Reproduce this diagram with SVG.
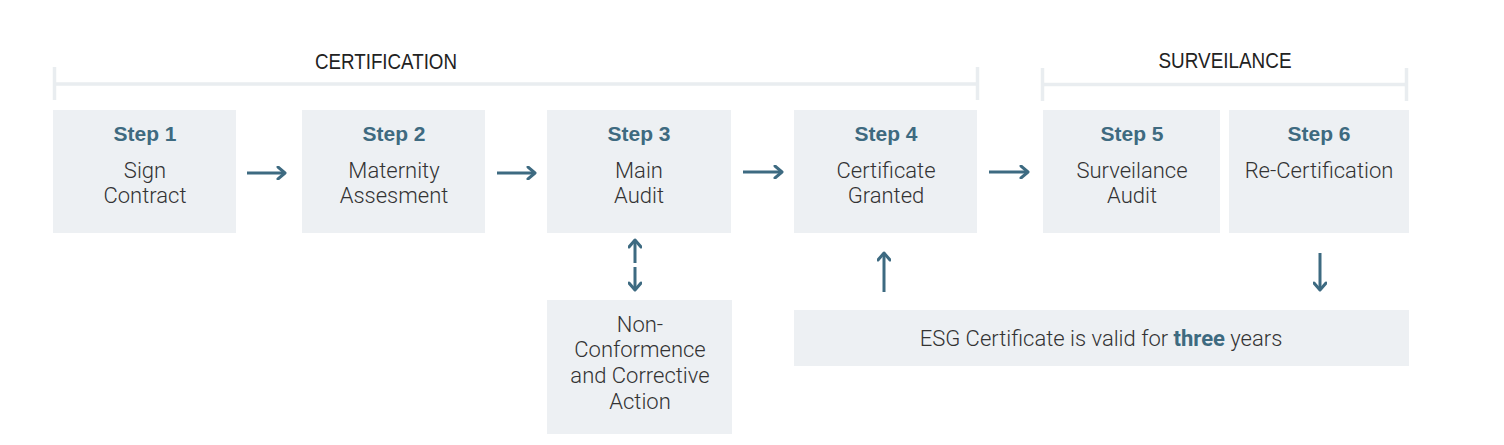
<svg xmlns="http://www.w3.org/2000/svg" width="1504" height="445" viewBox="0 0 1504 445">
<defs>
<marker id="ah" markerWidth="12" markerHeight="14" viewBox="0 0 12 14" refX="10" refY="7" orient="auto" markerUnits="userSpaceOnUse">
<polyline points="3,1 10,7 3,13" fill="none" stroke="#3d6a81" stroke-width="3" stroke-linecap="round" stroke-linejoin="round"/>
</marker>
</defs>
<style>
.box{fill:#edf0f3}
.br{stroke:#e9edf0;stroke-width:3.5;fill:none}
.hd{font-family:"Liberation Sans",Arial,sans-serif;font-size:22px;fill:#222;text-anchor:middle}
.st{font-family:"Liberation Sans",Arial,sans-serif;font-size:21px;font-weight:bold;fill:#3e6a80;text-anchor:middle}
.tx{font-family:Roboto,"Liberation Sans",sans-serif;font-weight:300;font-size:22px;fill:#333;text-anchor:middle}
.tx .b{font-weight:bold;fill:#3e6a80}
.ar{stroke:#3d6a81;stroke-width:3;fill:none;marker-end:url(#ah)}
</style>
<rect width="1504" height="445" fill="#fff"/>
<g id="brackets">
<path class="br" d="M54.5,67V100M54.5,84H977.5M977.5,67V100"/>
<path class="br" d="M1042.5,68V101M1042.5,84.5H1406.5M1406.5,68V101"/>
<text class="hd" x="386" y="69" textLength="142" lengthAdjust="spacingAndGlyphs">CERTIFICATION</text>
<text class="hd" x="1225" y="68" textLength="133" lengthAdjust="spacingAndGlyphs">SURVEILANCE</text>
</g>
<g id="step1"><rect class="box" x="53" y="110" width="183" height="123"/><text class="st" x="145" y="141">Step 1</text><text class="tx" x="145" y="178">Sign</text><text class="tx" x="145" y="203">Contract</text></g>
<g id="step2"><rect class="box" x="302" y="110" width="183" height="123"/><text class="st" x="394" y="141">Step 2</text><text class="tx" x="394" y="178">Maternity</text><text class="tx" x="394" y="203">Assesment</text></g>
<g id="step3"><rect class="box" x="547" y="110" width="184" height="123"/><text class="st" x="639" y="141">Step 3</text><text class="tx" x="639" y="178">Main</text><text class="tx" x="639" y="203">Audit</text></g>
<g id="step4"><rect class="box" x="794" y="110" width="183" height="123"/><text class="st" x="886" y="141">Step 4</text><text class="tx" x="886" y="178">Certificate</text><text class="tx" x="886" y="203">Granted</text></g>
<g id="step5"><rect class="box" x="1043" y="110" width="177" height="123"/><text class="st" x="1132" y="141">Step 5</text><text class="tx" x="1132" y="178">Surveilance</text><text class="tx" x="1132" y="203">Audit</text></g>
<g id="step6"><rect class="box" x="1229" y="110" width="180" height="123"/><text class="st" x="1319" y="141">Step 6</text><text class="tx" x="1319" y="178">Re-Certification</text></g>
<g id="nonconformance"><rect class="box" x="547" y="300" width="185" height="134"/><text class="tx" x="640" y="332">Non-</text><text class="tx" x="640" y="357">Conformence</text><text class="tx" x="640" y="383">and Corrective</text><text class="tx" x="640" y="409">Action</text></g>
<g id="validity"><rect class="box" x="794" y="310" width="615" height="56"/><text class="tx" x="1101" y="346">ESG Certificate is valid for <tspan class="b">three</tspan> years</text></g>
<g id="connectors">
<path class="ar" d="M247,173H285"/>
<path class="ar" d="M497,173H535"/>
<path class="ar" d="M743,172H782"/>
<path class="ar" d="M989,172H1028"/>
<path class="ar" d="M635,263V240"/>
<path class="ar" d="M635,267V290"/>
<path class="ar" d="M884,292V253"/>
<path class="ar" d="M1320,253V290"/>
</g>
</svg>
